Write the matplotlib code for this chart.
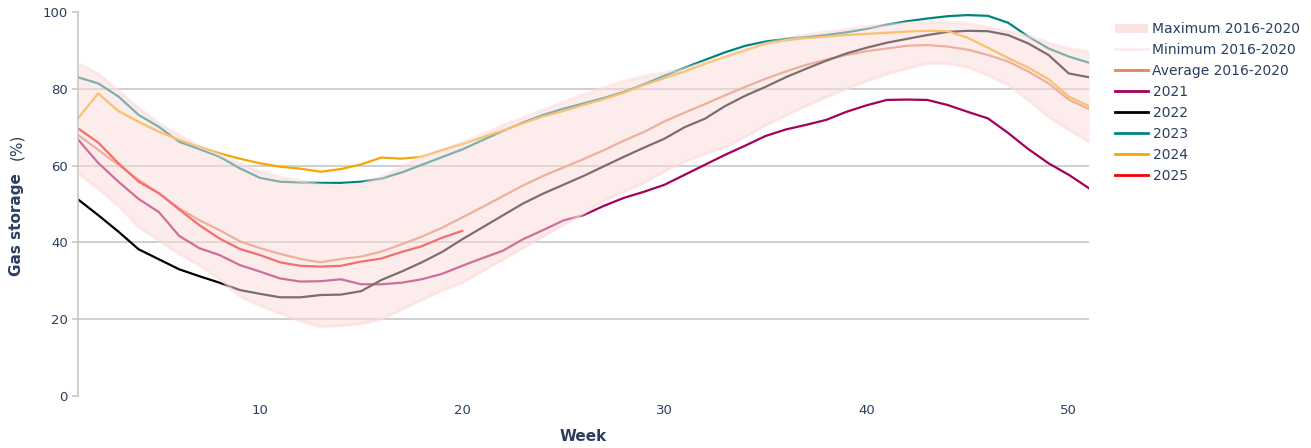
import matplotlib
matplotlib.use("Agg")
import matplotlib.pyplot as plt
from matplotlib.patches import Patch
from matplotlib.lines import Line2D

weeks = list(range(1, 52))

max_2016_2020 = [86.6, 84.0, 79.5, 75.0, 71.0, 68.0, 65.0, 62.8, 60.5, 58.5,
                 57.0, 56.0, 55.0, 54.8, 55.2, 57.0, 59.5, 62.5, 64.0, 66.0,
                 68.0, 70.5, 72.5, 74.5, 76.5, 78.5, 80.3, 82.0, 83.3, 84.2,
                 85.3, 86.8, 88.5, 90.3, 91.8, 93.0, 94.0, 94.8, 95.5, 96.2,
                 96.6, 97.1, 97.4, 97.4, 97.0, 96.0, 95.0, 93.8, 92.0, 90.5,
                 89.7]
min_2016_2020 = [58.0, 54.0, 49.5, 44.0, 40.5, 37.0, 34.0, 30.5, 26.0, 23.5,
                 21.5, 19.5, 18.0, 18.3, 18.8, 20.0, 22.5, 25.0, 27.5, 29.5,
                 32.5, 35.5, 38.5, 41.5, 44.5, 47.5, 50.8, 53.2, 55.5, 58.5,
                 61.0, 63.0, 64.8, 67.5, 70.5, 73.0, 75.5, 77.8, 80.0, 82.0,
                 83.8, 85.3, 86.6, 86.6, 85.6, 83.5, 81.0, 77.0, 72.7, 69.3,
                 66.2]
avg_2016_2020 = [68.0, 64.1, 60.2, 56.3, 52.8, 48.9, 45.8, 43.2, 40.3, 38.5,
                 37.0, 35.7, 34.8, 35.7, 36.3, 37.6, 39.5, 41.5, 43.8, 46.5,
                 49.2, 52.0, 54.8, 57.3, 59.5, 61.7, 64.0, 66.5, 68.8, 71.5,
                 73.8, 76.0, 78.3, 80.5, 82.6, 84.5, 86.2, 87.6, 88.8, 89.8,
                 90.5, 91.2, 91.4, 91.0, 90.2, 88.8, 87.1, 84.5, 81.4, 77.2,
                 74.7]
y2021 = [66.8, 60.7, 55.8, 51.3, 47.9, 41.7, 38.5, 36.7, 34.1, 32.4,
         30.6, 29.8, 29.9, 30.4, 29.1, 29.1, 29.5, 30.4, 31.8, 33.9,
         35.9, 37.8, 40.8, 43.2, 45.7, 47.1, 49.5, 51.6, 53.2, 55.0,
         57.6, 60.2, 62.8, 65.2, 67.7, 69.4, 70.6, 71.9, 74.0, 75.7,
         77.1, 77.2, 77.1, 75.8, 74.0, 72.3, 68.5, 64.3, 60.6, 57.6,
         54.1]
y2022 = [51.2, 47.1, 42.8, 38.2, 35.6, 33.0, 31.2, 29.5, 27.6, 26.6,
         25.7, 25.7, 26.3, 26.4, 27.3, 30.2, 32.4, 34.8, 37.5, 40.8,
         43.9, 47.0, 50.1, 52.7, 55.0, 57.3, 59.8, 62.3, 64.7, 67.0,
         70.0, 72.2, 75.5, 78.2, 80.5, 83.0, 85.2, 87.3, 89.2, 90.7,
         92.0, 93.0, 94.0, 94.8, 95.1, 95.0, 94.0, 91.8, 88.8, 84.0,
         83.0]
y2023 = [83.0, 81.4, 78.0, 73.2, 70.1, 66.2, 64.3, 62.3, 59.3, 56.8,
         55.8, 55.6, 55.5, 55.5, 55.8, 56.6, 58.2, 60.2, 62.2, 64.2,
         66.6, 69.0, 71.2, 73.2, 74.8, 76.2, 77.6, 79.2, 81.2, 83.4,
         85.5, 87.5, 89.5, 91.2, 92.3, 93.0, 93.5, 94.0, 94.7, 95.6,
         96.7, 97.6, 98.3, 98.9, 99.2, 99.0, 97.2, 93.6, 90.5, 88.4,
         86.8]
y2024 = [72.3, 78.8, 74.2, 71.4, 68.8, 66.7, 64.9, 63.2, 61.8, 60.6,
         59.7, 59.2, 58.4, 59.1, 60.3, 62.1, 61.8, 62.3, 64.0, 65.6,
         67.4, 69.1, 71.0, 72.8, 74.2, 75.8, 77.3, 79.0, 81.0, 82.8,
         84.5, 86.5, 88.3, 90.0, 91.7, 92.6, 93.2, 93.6, 94.0, 94.3,
         94.6, 94.9, 95.1, 95.0, 93.3, 90.7, 88.0, 85.5, 82.5, 78.0,
         75.5]
y2025 = [69.7, 66.0, 60.6, 55.8, 52.8, 48.6, 44.5, 41.0, 38.3, 36.7,
         34.8, 33.9, 33.7, 33.9, 35.0, 35.8, 37.5, 39.0, 41.2, 43.0]

year_series = [("2021", y2021, "#A5005A"),
               ("2022", y2022, "#000000"),
               ("2023", y2023, "#00857D"),
               ("2024", y2024, "#F7A600"),
               ("2025", y2025, "#F00000")]
avg_color = "#E0865E"
band_color = (0.985, 0.86, 0.86)
text_color = "#2a3f5f"

plt.rcParams['font.family'] = ['DejaVu Sans']

fig = plt.figure(figsize=(13.11, 4.48), dpi=100)
ax = fig.add_axes([78 / 1311, 1 - 396 / 448, (1089 - 78) / 1311, (396 - 12) / 448])

ax.plot(weeks, avg_2016_2020, color=avg_color, lw=1.6, zorder=2)
for name, vals, col in year_series:
    ax.plot(weeks[:len(vals)], vals, color=col, lw=1.6, zorder=2)

ax.fill_between(weeks, min_2016_2020, max_2016_2020, color=band_color, alpha=0.5,
                lw=0, zorder=3)
ax.plot(weeks, max_2016_2020, color=band_color, alpha=0.5, lw=2.2, zorder=3)
ax.plot(weeks, min_2016_2020, color=band_color, alpha=0.5, lw=2.2, zorder=3)

ax.set_xlim(1, 51)
ax.set_ylim(0, 100)
ax.set_xticks([10, 20, 30, 40, 50])
ax.set_yticks([0, 20, 40, 60, 80, 100])
for y in [20, 40, 60, 80]:
    ax.axhline(y, color="#c2c2c2", lw=1.1, zorder=1)

for s in ["top", "right", "bottom"]:
    ax.spines[s].set_visible(False)
ax.spines["left"].set_color("#c2c2c2")
ax.spines["left"].set_linewidth(1.1)
ax.tick_params(axis="y", length=4.3, width=1.1, color="#c2c2c2", pad=3,
               labelsize=9.5, labelcolor=text_color)
ax.tick_params(axis="x", length=0, pad=6, labelsize=9.5, labelcolor=text_color)

fig.text(17 / 1311, 1 - 225 / 448, "Gas storage", rotation=90, ha="center",
         va="center", fontsize=11, fontweight="bold", color=text_color)
fig.text(17 / 1311, 1 - 147 / 448, "(%)", rotation=90, ha="center",
         va="center", fontsize=11, color=text_color)
fig.text(583 / 1311, 1 - 436 / 448, "Week", ha="center", va="center",
         fontsize=11, fontweight="bold", color=text_color)

handles = [Patch(facecolor=(0.99, 0.89, 0.89), edgecolor="none"),
           Line2D([], [], color=(0.99, 0.92, 0.92), lw=2),
           Line2D([], [], color=avg_color, lw=2)]
labels = ["Maximum 2016-2020", "Minimum 2016-2020", "Average 2016-2020"]
for name, vals, col in year_series:
    handles.append(Line2D([], [], color=col, lw=2))
    labels.append(name)
leg = fig.legend(handles, labels, loc="upper left",
                 bbox_to_anchor=(1115 / 1311, 1 - 22 / 448), frameon=False,
                 fontsize=10, handlelength=2.35, handleheight=0.6,
                 handletextpad=0.35, labelspacing=0.5, borderpad=0,
                 borderaxespad=0)
for t in leg.get_texts():
    t.set_color(text_color)

fig.savefig("out.png", dpi=100)
